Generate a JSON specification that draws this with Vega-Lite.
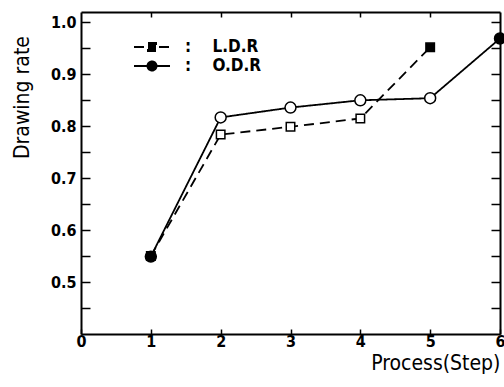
{
  "$schema": "https://vega.github.io/schema/vega-lite/v6.json",
  "width": 419,
  "height": 322,
  "autosize": {"type": "none"},
  "padding": {"left": 81, "top": 12, "right": 4, "bottom": 53},
  "config": {
    "view": {"stroke": null},
    "font": "DejaVu Sans Condensed",
    "axis": {
      "grid": false,
      "domainColor": "black",
      "domainWidth": 2,
      "tickColor": "black",
      "tickWidth": 1.5,
      "labelColor": "black",
      "labelFont": "DejaVu Sans Condensed",
      "labelFontWeight": "bold",
      "labelFontSize": 16,
      "titleFont": "DejaVu Sans Condensed",
      "titleFontWeight": "normal",
      "titleFontSize": 21,
      "titleColor": "black"
    }
  },
  "data": {
    "values": [
      {"series": "L.D.R", "step": 1, "rate": 0.55},
      {"series": "L.D.R", "step": 2, "rate": 0.784},
      {"series": "L.D.R", "step": 3, "rate": 0.799},
      {"series": "L.D.R", "step": 4, "rate": 0.815},
      {"series": "L.D.R", "step": 5, "rate": 0.952},
      {"series": "O.D.R", "step": 1, "rate": 0.549},
      {"series": "O.D.R", "step": 2, "rate": 0.817},
      {"series": "O.D.R", "step": 3, "rate": 0.836},
      {"series": "O.D.R", "step": 4, "rate": 0.85},
      {"series": "O.D.R", "step": 5, "rate": 0.854},
      {"series": "O.D.R", "step": 6, "rate": 0.969}
    ]
  },
  "transform": [
    {"joinaggregate": [{"op": "max", "field": "step", "as": "last"}], "groupby": ["series"]}
  ],
  "layer": [
    {
      "mark": {"type": "line", "color": "black", "strokeWidth": 1.8},
      "encoding": {
        "x": {
          "field": "step", "type": "quantitative",
          "scale": {"domain": [0, 6]},
          "axis": {
            "orient": "bottom", "values": [0, 1, 2, 3, 4, 5, 6], "tickSize": -5,
            "labelPadding": 4, "labelFlush": false,
            "title": "Process(Step)", "titleAnchor": "end", "titleAlign": "right",
            "titlePadding": 3
          }
        },
        "y": {
          "field": "rate", "type": "quantitative",
          "scale": {"domain": [0.4, 1.02], "nice": false, "zero": false},
          "axis": {
            "orient": "left",
            "values": [0.45, 0.5, 0.55, 0.6, 0.65, 0.7, 0.75, 0.8, 0.85, 0.9, 0.95, 1.0],
            "tickSize": -9, "labelPadding": 14, "labelFontSize": 16,
            "labelExpr": "abs(datum.value*10 - round(datum.value*10)) < 0.001 ? format(datum.value, '.1f') : ''",
            "title": "Drawing rate", "titleAngle": -90, "titleX": -53, "titleY": 85,
            "titleAlign": "center", "titleBaseline": "alphabetic"
          }
        },
        "detail": {"field": "series"},
        "strokeDash": {
          "field": "series", "type": "nominal",
          "scale": {"domain": ["L.D.R", "O.D.R"], "range": [[10, 6], [1, 0]]},
          "legend": {
            "title": null,
            "orient": "none",
            "legendX": 60,
            "legendY": 24,
            "padding": 0,
            "labelExpr": "':\u00a0\u00a0\u00a0\u00a0' + datum.label",
            "labelFont": "DejaVu Sans Condensed",
            "labelFontWeight": "bold",
            "labelFontSize": 17,
            "labelColor": "black",
            "labelOffset": 22,
            "rowPadding": -7,
            "symbolSize": 400,
            "symbolFillColor": "black",
            "symbolStrokeColor": "black",
            "symbolStrokeWidth": 2,
            "symbolDash": [1, 0],
            "encode": {
              "symbols": {
                "update": {
                  "shape": {"signal": "datum.value === 'L.D.R' ? 'M-1.8,0H-0.7M0.7,0H1.8M-0.4,-0.4H0.4V0.4H-0.4Z' : 'M-1.8,0H1.8M0.45,0A0.45,0.45 0 1,1 -0.45,0A0.45,0.45 0 1,1 0.45,0Z'"},
                  "fill": {"value": "black"},
                  "stroke": {"value": "black"},
                  "strokeWidth": {"value": 2},
                  "strokeDash": {"value": [1, 0]}
                }
              }
            }
          }
        }
      }
    },
    {
      "mark": {"type": "point", "filled": true, "stroke": "black", "strokeWidth": 1.5, "opacity": 1},
      "encoding": {
        "x": {"field": "step", "type": "quantitative", "axis": null},
        "y": {"field": "rate", "type": "quantitative", "axis": null},
        "shape": {
          "condition": {"test": "datum.series == 'L.D.R'", "value": "square"},
          "value": "circle"
        },
        "size": {
          "condition": {"test": "datum.series == 'L.D.R'", "value": 72},
          "value": 120
        },
        "fill": {
          "condition": {"test": "datum.step == 1 || datum.step == datum.last", "value": "black"},
          "value": "white"
        }
      }
    },
    {
      "mark": {"type": "point", "opacity": 0},
      "encoding": {
        "x": {
          "field": "step", "type": "quantitative",
          "axis": {"orient": "top", "values": [1, 2, 3, 4, 5], "tickSize": -5, "labels": false, "title": null}
        },
        "y": {
          "field": "rate", "type": "quantitative",
          "axis": {
            "orient": "right",
            "values": [0.45, 0.5, 0.55, 0.6, 0.65, 0.7, 0.75, 0.8, 0.85, 0.9, 0.95, 1.0],
            "tickSize": -9, "labels": false, "title": null
          }
        }
      }
    }
  ],
  "resolve": {"axis": {"x": "independent", "y": "independent"}}
}
